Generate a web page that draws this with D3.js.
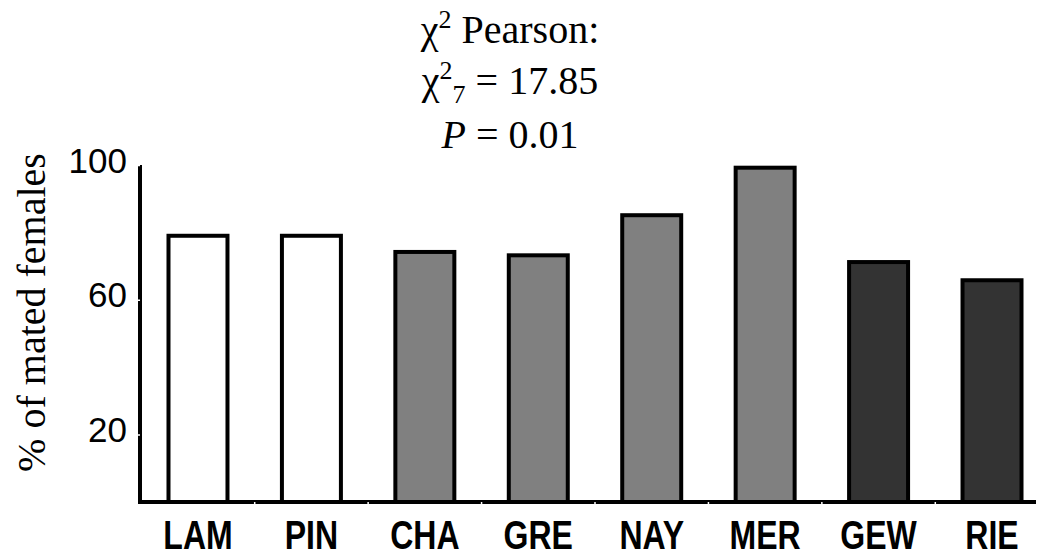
<!DOCTYPE html>
<html><head><meta charset="utf-8">
<script src="https://cdn.jsdelivr.net/npm/d3@7"></script>
<style>body{margin:0;background:#fff}svg{display:block}</style>
</head><body><svg id="c" width="1039" height="558"></svg>
<script>
const categories = ["LAM","PIN","CHA","GRE","NAY","MER","GEW","RIE"];
const values = [79.0, 79.0, 74.2, 73.2, 85.1, 99.2, 71.2, 65.8];
const groups = ["open","open","grey","grey","grey","grey","dark","dark"];
const groupColors = {open:"#ffffff", grey:"#808080", dark:"#333333"};
const yTicks = [20, 60, 100];
const yLabel = "% of mated females";

const svg = d3.select("#c");
const x = d3.scaleBand().domain(categories).range([139, 1051]).paddingInner(0.48).paddingOuter(0.26);
const y = d3.scaleLinear().domain([0, 100]).range([502, 165]);

// bars
svg.append("g").selectAll("rect").data(categories).join("rect")
  .attr("x", d => x(d))
  .attr("width", x.bandwidth())
  .attr("y", (d,i) => y(values[i]))
  .attr("height", (d,i) => y(0) - y(values[i]))
  .attr("fill", (d,i) => groupColors[groups[i]])
  .attr("stroke", "#000").attr("stroke-width", 4);

// y axis
const ya = svg.append("g").attr("transform", "translate(140,0)")
  .call(d3.axisLeft(y).tickValues(yTicks).tickSize(2).tickPadding(11));
ya.select(".domain").attr("d", `M0,${y(100)}V${y(0)}`).attr("stroke","#000").attr("stroke-width",4).attr("stroke-linejoin","round");
ya.selectAll(".tick line").attr("stroke","#fff").attr("stroke-width",1.5);
ya.selectAll(".tick text").attr("font-family","Liberation Sans, Arial, sans-serif").attr("font-size",35).attr("fill","#000").attr("dy","0.2em");

// x axis
const xa = svg.append("g").attr("transform", `translate(0,${y(0)})`)
  .call(d3.axisBottom(x).tickSize(0).tickPadding(19));
xa.select(".domain").attr("d", "M138,0H1036").attr("stroke","#000").attr("stroke-width",4);
xa.selectAll(".tick text")
  .attr("font-family","Liberation Sans, Arial, sans-serif").attr("font-weight","bold")
  .attr("font-size",40).attr("fill","#000").attr("dy","0.71em")
  .attr("transform","scale(0.8,1)");
// white notches at band boundaries
const bounds = categories.slice(1).map(d => x(d) - x.step()*x.paddingInner()/2);
svg.append("g").selectAll("line").data(bounds).join("line")
  .attr("x1", d => d).attr("x2", d => d)
  .attr("y1", y(0)).attr("y2", y(0) + 2)
  .attr("stroke", "#fff").attr("stroke-width", 1.5);

// y axis title
svg.append("text")
  .attr("transform", `translate(45,${(y(0)+y(100))/2 - 21}) rotate(-90)`)
  .attr("text-anchor","middle")
  .attr("font-family","Liberation Serif, Times New Roman, serif").attr("font-size",40)
  .text(yLabel);

// title
const tf = "Liberation Serif, Times New Roman, serif";
const t1 = svg.append("text").attr("x",510).attr("y",43).attr("text-anchor","middle").attr("font-family",tf).attr("font-size",40);
t1.append("tspan").text("χ");
t1.append("tspan").attr("font-size",26).attr("dy",-15).text("2");
t1.append("tspan").attr("dy",15).text(" Pearson:");
const t2 = svg.append("text").attr("x",510).attr("y",94).attr("text-anchor","middle").attr("font-family",tf).attr("font-size",40);
t2.append("tspan").text("χ");
t2.append("tspan").attr("font-size",26).attr("dy",-15).text("2");
t2.append("tspan").attr("font-size",26).attr("dy",24).text("7");
t2.append("tspan").attr("dy",-9).text(" = 17.85");
const t3 = svg.append("text").attr("x",510).attr("y",148).attr("text-anchor","middle").attr("font-family",tf).attr("font-size",40);
t3.append("tspan").attr("font-style","italic").text("P");
t3.append("tspan").text(" = 0.01");
</script></body></html>
